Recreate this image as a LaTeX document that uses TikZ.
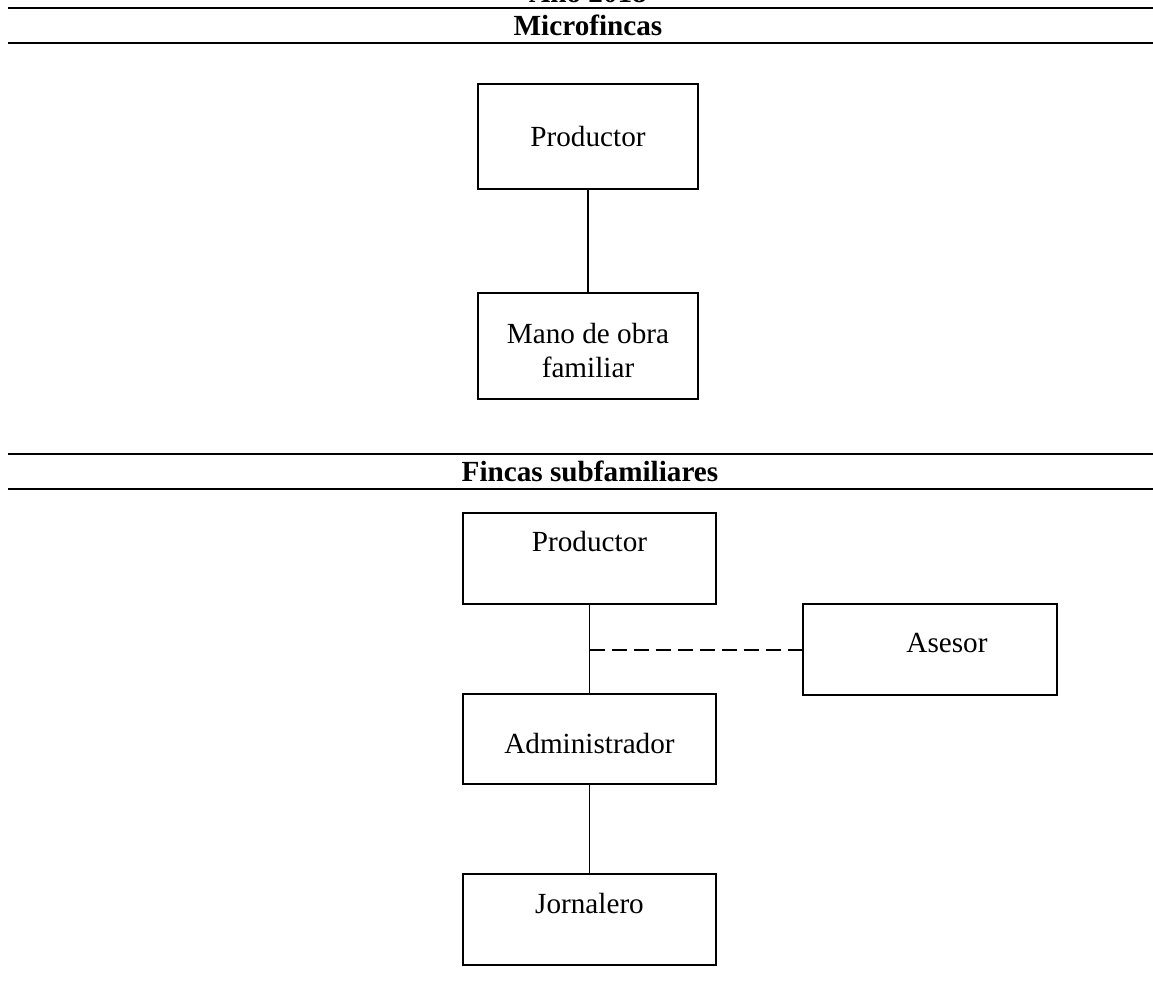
\documentclass[tikz,border=0pt]{standalone}
\usepackage{fontspec}
\setmainfont{Liberation Serif}
\tikzset{
  txt/.style={font=\fontsize{14.6}{16.5}\selectfont},
  orgbox/.style={txt, draw, line width=1pt, minimum width=#1, inner sep=0pt},
  orgbox/.default=110pt,
  rule/.style={line width=1pt},
  thin link/.style={line width=.6pt}
}
\begin{document}
\begin{tikzpicture}[x=.5pt, y=-.5pt]
\useasboundingbox (0,0) rectangle (1153,984);
\clip (0,0) rectangle (1153,984);

\begin{scope}
\node[txt, font=\fontsize{14.6}{16.5}\selectfont\bfseries, anchor=base] (year) at (588,3) {Año 2018};
\draw[rule](8,8)--(1153,8);
\node[txt, font=\fontsize{14.6}{16.5}\selectfont\bfseries, anchor=base] (micro) at (588,36) {Microfincas};
\draw[rule](8,43)--(1153,43);

\node[orgbox, minimum height=52.5pt] (prodA) at (588,136.5) {Productor};
\node[orgbox, minimum height=53pt] (mano) at (588,346)
  {\raisebox{-4pt}[\height][\depth]{\begin{tabular}{@{}c@{}}Mano de obra\\[0.5pt]familiar\end{tabular}}};
\draw[line width=1pt](prodA)--(mano);
\end{scope}

\begin{scope}
\draw[rule](8,454)--(1153,454);
\node[txt, font=\fontsize{14.6}{16.5}\selectfont\bfseries, anchor=base] (sub) at (590,482) {Fincas subfamiliares};
\draw[rule](8,489)--(1153,489);

\node[orgbox=126.5pt, minimum height=45.5pt, text height=10pt, text depth=16.5pt] (prodB) at (589.5,558.5) {Productor};
\node[orgbox=127pt, minimum height=45.5pt, text height=10pt, text depth=6.5pt] (ase) at (930,649.5) {\hspace{17pt}Asesor};
\node[orgbox=126.5pt, minimum height=45pt, text height=14pt, text depth=0pt] (adm) at (589.5,739) {Administrador};
\node[orgbox=126.5pt, minimum height=45.5pt, text height=10pt, text depth=16.5pt] (jor) at (589.5,919.5) {Jornalero};

\draw[thin link](prodB)--(adm);
\draw[line width=1pt, dash pattern=on 7.5pt off 3.5pt](prodB.south |- ase.west)--(ase.west);
\draw[thin link](adm)--(jor);
\end{scope}
\end{tikzpicture}
\end{document}
